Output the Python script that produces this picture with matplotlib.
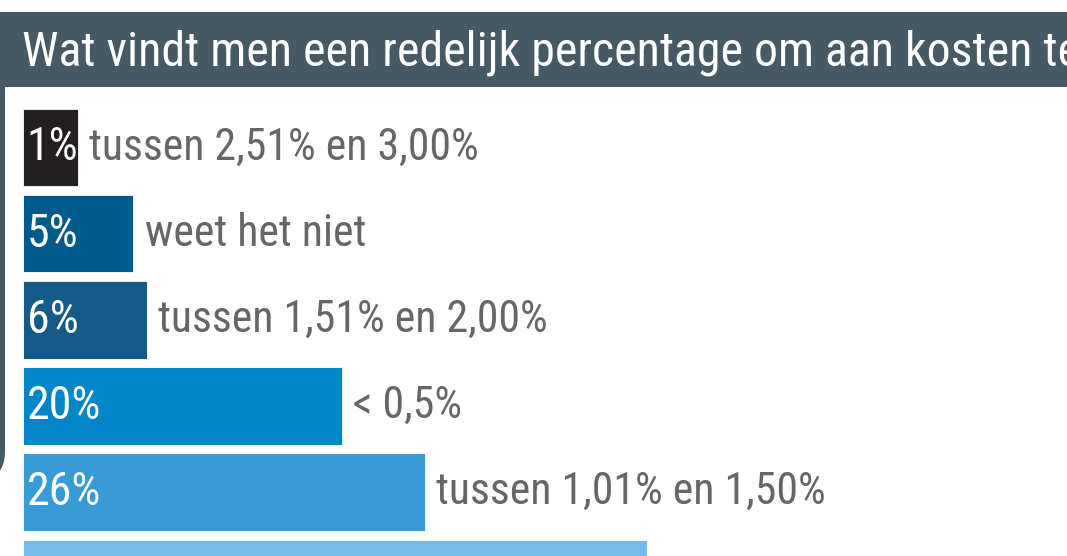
import matplotlib
matplotlib.use("Agg")
import matplotlib.pyplot as plt
from matplotlib.patches import Rectangle, FancyBboxPatch

# data (sorted from small to large, top to bottom)
categories = ['tussen 2,51% en 3,00%', 'weet het niet', 'tussen 1,51% en 2,00%',
              '< 0,5%', 'tussen 1,01% en 1,50%', 'tussen 0,51% en 1,00%']
values = [1, 5, 6, 20, 26, 42]
value_labels = ['1%', '5%', '6%', '20%', '26%', '42%']
colors = ['#231f20', '#005a8e', '#135b88', '#0085c8', '#369bd6', '#74bde6']

title = 'Wat vindt men een redelijk percentage om aan kosten te betalen?'

fontfam = ['Roboto Condensed', 'Roboto', 'DejaVu Sans']
W, H = 1067, 556
fig = plt.figure(figsize=(W / 100, H / 100), dpi=100)

# background layer in pixel coordinates
bg = fig.add_axes([0, 0, 1, 1])
bg.set_xlim(0, W)
bg.set_ylim(H, 0)
bg.axis('off')
slate = '#455a64'
bg.add_patch(FancyBboxPatch((-80, 12), 85, 468, boxstyle='round,pad=0,rounding_size=28',
                            fc=slate, ec='none'))
bg.add_patch(Rectangle((0, 12), W, 75, fc=slate, ec='none'))
bg.text(22, 65, title, color='white', fontsize=34.5, family=fontfam, stretch='condensed',
        va='baseline', ha='left')

# bars
ax = fig.add_axes([0, 0, 1, 1])
ax.patch.set_alpha(0)
offset = 2.95  # bars start a bit left of zero so the small ones can hold their label
y = list(range(len(values)))
ax.barh(y, [v + offset for v in values], left=-offset, height=0.9, color=colors,
        edgecolor='white', linewidth=0.6)
for yi, v, vl, cat in zip(y, values, value_labels, categories):
    ax.annotate(vl, (-offset, yi), xytext=(2.5, 0), textcoords='offset points',
                color='white', fontsize=33, family=fontfam, stretch='condensed',
                va='center', ha='left')
    ax.annotate(cat, (v, yi), xytext=(8, 0), textcoords='offset points',
                color='#666666', fontsize=31.5, family=fontfam, stretch='condensed',
                va='center', ha='left')

ax.set_xlim(-4.61, -4.61 + W / 13.89)
ax.set_ylim(-1.711 + H / 86.2, -1.711)
ax.axis('off')

plt.savefig('out.png', dpi=100)
